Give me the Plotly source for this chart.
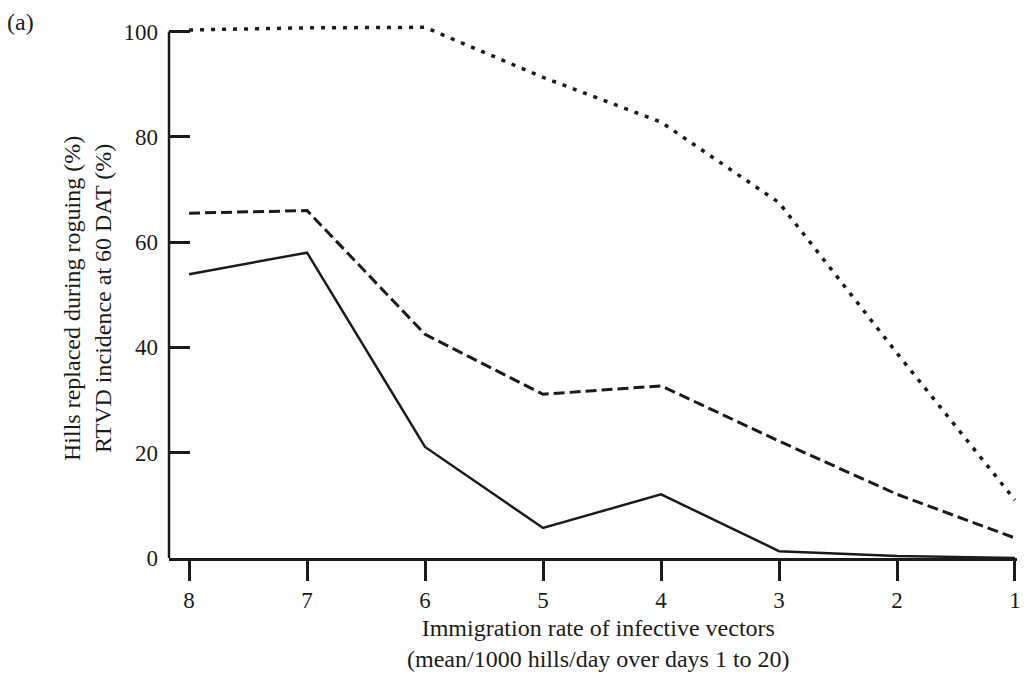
import plotly.graph_objects as go

# Immigration rate of infective vectors (mean/1000 hills/day over days 1 to 20)
rate = [8, 7, 6, 5, 4, 3, 2, 1]

# Percent values for the three curves
no_roguing = [100.3, 100.7, 100.8, 91.3, 82.8, 67.5, 38.9, 11.0]
with_roguing = [65.5, 66.0, 42.5, 31.1, 32.7, 22.2, 12.1, 3.8]
hills_replaced = [53.9, 58.0, 21.1, 5.7, 12.1, 1.3, 0.4, 0.0]

x_ticks = [8, 7, 6, 5, 4, 3, 2, 1]
y_ticks = [0, 20, 40, 60, 80, 100]

INK = "#1b1b1b"
FONT = "Liberation Serif, Times New Roman, serif"

fig = go.Figure()
fig.add_trace(go.Scatter(x=rate, y=no_roguing, mode="lines",
                         line=dict(color=INK, width=3.5, dash="4px,7px")))
fig.add_trace(go.Scatter(x=rate, y=with_roguing, mode="lines",
                         line=dict(color=INK, width=3, dash="11px,5px")))
fig.add_trace(go.Scatter(x=rate, y=hills_replaced, mode="lines",
                         line=dict(color=INK, width=2.5)))

fig.update_layout(
    width=1031, height=678,
    margin=dict(l=169, r=10, t=21, b=120),
    paper_bgcolor="white", plot_bgcolor="white",
    showlegend=False,
    font=dict(family=FONT, size=23, color=INK),
    xaxis=dict(
        range=[8.17, 0.983], tickmode="array", tickvals=x_ticks,
        ticktext=[str(v) for v in x_ticks],
        showgrid=False, zeroline=False,
        showline=True, linecolor=INK, linewidth=2.5,
        ticks="outside", ticklen=20, tickwidth=2.5, tickcolor=INK,
        ticklabelstandoff=0,
    ),
    yaxis=dict(
        range=[0, 102], tickmode="array", tickvals=y_ticks,
        ticktext=[str(v) for v in y_ticks],
        showgrid=False, zeroline=False, showline=False,
        ticks="inside", ticklen=21, tickwidth=2.5, tickcolor=INK,
        ticklabelstandoff=10,
    ),
)

# Vertical axis line running from 0 to 100
fig.add_shape(type="line", xref="paper", yref="y", x0=0, x1=0, y0=0, y1=100,
              line=dict(color=INK, width=2.5))

fig.add_annotation(
    text="Immigration rate of infective vectors<br>(mean/1000 hills/day over days 1 to 20)",
    xref="paper", yref="paper", x=0.506, y=-0.159,
    showarrow=False, font=dict(family=FONT, size=24, color=INK),
    xanchor="center", yanchor="middle",
)
fig.add_annotation(
    text="Hills replaced during roguing (%)<br>RTVD incidence at 60 DAT (%)",
    xref="paper", yref="paper", x=-0.0968, y=0.484, textangle=-90,
    showarrow=False, font=dict(family=FONT, size=24, color=INK),
    xanchor="center", yanchor="middle",
)
fig.add_annotation(
    text="(a)", xref="paper", yref="paper",
    x=(20 - 169) / 852, y=(558 - 22) / 537,
    showarrow=False, font=dict(family=FONT, size=24, color=INK),
    xanchor="center", yanchor="middle",
)

fig.write_html("out.html")
